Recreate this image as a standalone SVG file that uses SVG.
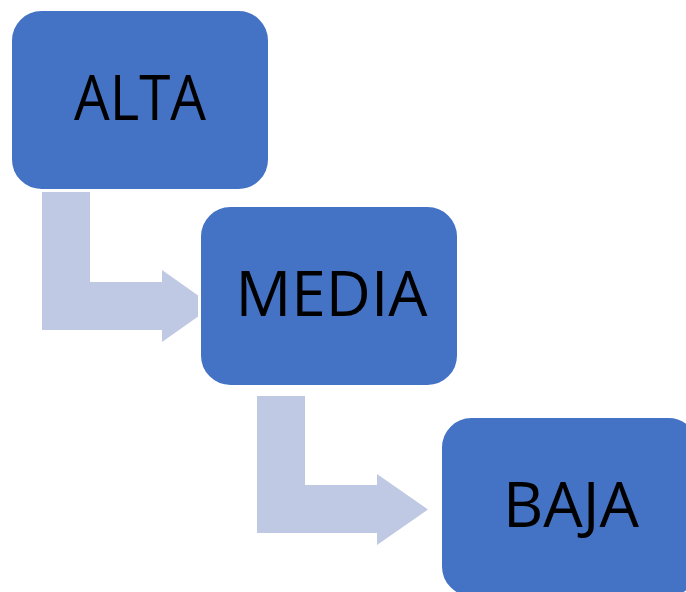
<svg xmlns="http://www.w3.org/2000/svg" width="686" height="592" viewBox="0 0 686 592">
<style>
.box{fill:#4472C4;stroke:#FFFFFF;stroke-width:3}
.arr{fill:#BFC9E4;stroke:none}
.lbl{font-family:"Open Sans","Liberation Sans",Arial,sans-serif;font-size:62px;fill:#000000;text-anchor:middle}
</style>
<rect width="686" height="592" fill="#FFFFFF"/>
<g id="connectors">
<polygon class="arr" points="42,192 90,192 90,282 162,282 162,270 213,306 162,342 162,330 42,330"/>
<polygon class="arr" points="257,396 305,396 305,485 377,485 377,474 428,509.5 377,545 377,533 257,533"/>
</g>
<g id="node-alta">
<rect class="box" x="10.5" y="9.5" width="259" height="181" rx="31" ry="31"/>
<text class="lbl" x="140" y="120" textLength="132" lengthAdjust="spacingAndGlyphs">ALTA</text>
</g>
<g id="node-media">
<rect class="box" x="199.5" y="205.5" width="259" height="181" rx="31" ry="31"/>
<text class="lbl" x="331.5" y="316" textLength="192" lengthAdjust="spacingAndGlyphs">MEDIA</text>
</g>
<g id="node-baja">
<rect class="box" x="440.5" y="416.5" width="259" height="181" rx="31" ry="31"/>
<text class="lbl" x="571" y="527" textLength="136" lengthAdjust="spacingAndGlyphs">BAJA</text>
</g>
</svg>
